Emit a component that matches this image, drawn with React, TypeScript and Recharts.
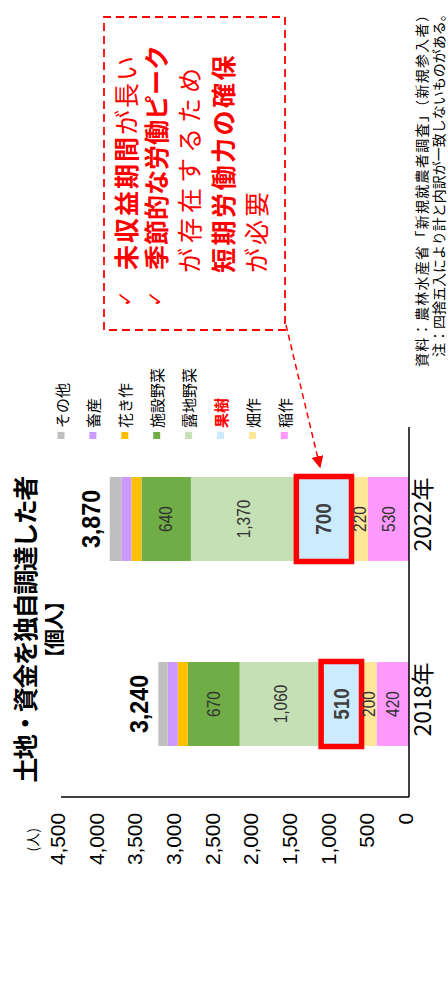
import { BarChart, Bar, XAxis, YAxis, LabelList } from 'recharts';

// 土地・資金を独自調達した者【個人】 新規参入者の営農類型別人数
const YEARS = ['2018年', '2022年'];
const RICE = [420, 530]; // 稲作
const FIELD = [200, 220]; // 畑作
const FRUIT = [510, 700]; // 果樹
const OPEN_VEG = [1060, 1370]; // 露地野菜
const GREEN_VEG = [670, 640]; // 施設野菜
const FLOWER = [130, 130]; // 花き作
const LIVESTOCK = [130, 130]; // 畜産
const OTHER = [120, 150]; // その他
const TOTALS = [3240, 3870];
const VALUE_TICKS = [0, 500, 1000, 1500, 2000, 2500, 3000, 3500, 4000, 4500];

const SERIES = [
  { key: 'rice', name: '稲作', color: '#FF99FF', values: RICE, label: 'plain' },
  { key: 'field', name: '畑作', color: '#FFE699', values: FIELD, label: 'plain' },
  { key: 'fruit', name: '果樹', color: '#CCEBFF', values: FRUIT, label: 'strong' },
  { key: 'openVeg', name: '露地野菜', color: '#C5E0B4', values: OPEN_VEG, label: 'plain' },
  { key: 'greenVeg', name: '施設野菜', color: '#70AD47', values: GREEN_VEG, label: 'plain' },
  { key: 'flower', name: '花き作', color: '#FFC000', values: FLOWER, label: '' },
  { key: 'livestock', name: '畜産', color: '#CC99FF', values: LIVESTOCK, label: '' },
  { key: 'other', name: 'その他', color: '#BFBFBF', values: OTHER, label: '' },
];

const rows = YEARS.map((year, i) => {
  const row: any = { year, total: TOTALS[i] };
  SERIES.forEach((s) => (row[s.key] = s.values[i]));
  const low = RICE[i] + FIELD[i];
  row.fruitRange = [low, low + FRUIT[i]];
  return row;
});

const RED = '#FF0000';
const JP = '"Noto Sans CJK JP", "Noto Sans", sans-serif';
const NUM = '"Liberation Sans", Arial, sans-serif';

const fmt = (v: number) => String(v).replace(/\B(?=(\d{3})+(?!\d))/g, ',');

// narrow digits like the original (MS Gothic style)
function NumText({ x, y, text, size, weight = 400, fill = '#000', anchor = 'middle', squeeze = 0.86 }: any) {
  const natural = text.split('').reduce((a: number, c: string) => a + (c === ',' ? 0.278 : 0.556), 0) * size;
  return (
    <text
      x={x}
      y={y}
      fontSize={size}
      fontWeight={weight}
      fill={fill}
      textAnchor={anchor}
      dominantBaseline="central"
      fontFamily={NUM}
      textLength={natural * squeeze}
      lengthAdjust="spacingAndGlyphs"
    >
      {text}
    </text>
  );
}

function ValueTick(props: any) {
  const { x, y, payload } = props;
  return <NumText x={x - 8} y={y - 3} text={fmt(payload.value)} size={20} anchor="end" squeeze={1.04} />;
}

function YearTick(props: any) {
  const { x, y, payload } = props;
  return (
    <text x={x + 5} y={y + 4} textAnchor="middle" dominantBaseline="central" fontSize={23} fontFamily={JP} fill="#000">
      {payload.value}
    </text>
  );
}

const segLabel = (strong: boolean) => (props: any) => {
  const { x, y, width, height, value } = props;
  return (
    <NumText
      x={x + width / 2}
      y={y + height / 2}
      text={fmt(value)}
      size={strong ? 22 : 18}
      weight={strong ? 700 : 400}
      fill={strong ? '#404040' : '#333'}
    />
  );
};

function TotalLabel(props: any) {
  const { x, y, width, value } = props;
  return <NumText x={x + width / 2} y={y - 19} text={fmt(value)} size={25} weight={700} squeeze={0.93} />;
}

function HighlightBox(props: any) {
  const { x, y, width, height } = props;
  return <rect x={x - 0.5} y={y - 0.5} width={width + 1} height={height + 1} fill="none" stroke={RED} strokeWidth={5.5} />;
}

function Overlay() {
  const legend = [...SERIES].reverse();
  return (
    <svg width={998} height={448} style={{ position: 'absolute', left: 0, top: 0, pointerEvents: 'none' }}>
      <defs>
        <marker id="arrowHead" viewBox="0 0 10 10" refX="9" refY="5" markerWidth="12" markerHeight="12" markerUnits="userSpaceOnUse" orient="auto">
          <path d="M0,0 L10,5 L0,10 z" fill={RED} />
        </marker>
      </defs>
      <text x={368} y={24} textAnchor="middle" dominantBaseline="central" fontSize={25} fontWeight={700} fontFamily={JP} letterSpacing={-1.5}>
        土地・資金を独自調達した者
      </text>
      <text x={368} y={53} textAnchor="middle" dominantBaseline="central" fontSize={20} fontWeight={700} fontFamily={JP} letterSpacing={-1}>
        【個人】
      </text>
      <text x={170} y={32} textAnchor="end" dominantBaseline="central" fontSize={14} fontFamily={JP}>
        (人)
      </text>

      {legend.map((s, i) => {
        const cy = 61 + i * 31.9;
        const hot = s.key === 'fruit';
        return (
          <g key={s.key}>
            <rect x={559} y={cy - 3.5} width={7} height={7} fill={s.color} />
            <text x={570} y={cy} dominantBaseline="central" fontSize={15} fontFamily={JP} fill={hot ? RED : '#000'} fontWeight={hot ? 700 : 400}>
              {s.name}
            </text>
          </g>
        );
      })}

      <rect x={668} y={104} width={313} height={181} fill="none" stroke={RED} strokeWidth={1.8} strokeDasharray="8 5" />
      <line x1={673} y1={286} x2={531} y2={320} stroke={RED} strokeWidth={1.5} strokeDasharray="6 4" markerEnd="url(#arrowHead)" />

      <g fontFamily={JP} fill={RED} fontSize={25}>
        <text x={691} y={125} dominantBaseline="central" fontSize={20} fontFamily='"DejaVu Sans", sans-serif'>✓</text>
        <text x={728} y={125} dominantBaseline="central" letterSpacing={2}>
          <tspan fontWeight={700}>未収益期間</tspan>
          <tspan>が長い</tspan>
        </text>
        <text x={691} y={155} dominantBaseline="central" fontSize={20} fontFamily='"DejaVu Sans", sans-serif'>✓</text>
        <text x={728} y={155} dominantBaseline="central" fontWeight={700}>
          季節的な労働ピーク
        </text>
        <text x={725} y={188} dominantBaseline="central" letterSpacing={5}>
          が存在するため
        </text>
        <text x={725} y={222} dominantBaseline="central" fontWeight={700} letterSpacing={2.5}>
          短期労働力の確保
        </text>
        <text x={725} y={255} dominantBaseline="central" letterSpacing={3}>
          が必要
        </text>
      </g>

      <g fontFamily={JP} fontSize={14} fill="#000">
        <text x={631} y={421} dominantBaseline="central" letterSpacing={1.3}>
          資料：農林水産省「新規就農者調査」（新規参入者）
        </text>
        <text x={641} y={438} dominantBaseline="central">
          注：四捨五入により計と内訳が一致しないものがある。
        </text>
      </g>
    </svg>
  );
}

export default function App() {
  return (
    <div style={{ position: 'fixed', left: 0, top: 0, width: 448, height: 998, overflow: 'hidden', background: '#fff' }}>
      <div
        style={{
          position: 'absolute',
          left: 0,
          top: 0,
          width: 998,
          height: 448,
          transformOrigin: '0 0',
          transform: 'translateY(998px) rotate(-90deg)',
          fontFamily: JP,
        }}
      >
        <BarChart width={998} height={448} data={rows} margin={{ top: 61, right: 427, bottom: 0, left: 0 }} barSize={84}>
          <XAxis
            dataKey="year"
            height={39}
            axisLine={{ stroke: '#000', strokeWidth: 1.5 }}
            tickLine={false}
            tick={<YearTick />}
            interval={0}
          />
          <XAxis xAxisId="box" dataKey="year" hide />
          <YAxis
            width={201}
            domain={[0, 4500]}
            ticks={VALUE_TICKS}
            interval={0}
            axisLine={{ stroke: '#000', strokeWidth: 1.5 }}
            tickLine={false}
            tick={<ValueTick />}
          />
          {SERIES.map((s) => (
            <Bar key={s.key} dataKey={s.key} name={s.name} stackId="a" fill={s.color} isAnimationActive={false}>
              {s.label && <LabelList dataKey={s.key} content={segLabel(s.label === 'strong')} />}
              {s.key === 'other' && <LabelList dataKey="total" content={<TotalLabel />} />}
            </Bar>
          ))}
          <Bar xAxisId="box" dataKey="fruitRange" fill="none" shape={<HighlightBox />} isAnimationActive={false} />
        </BarChart>
        <Overlay />
      </div>
    </div>
  );
}
